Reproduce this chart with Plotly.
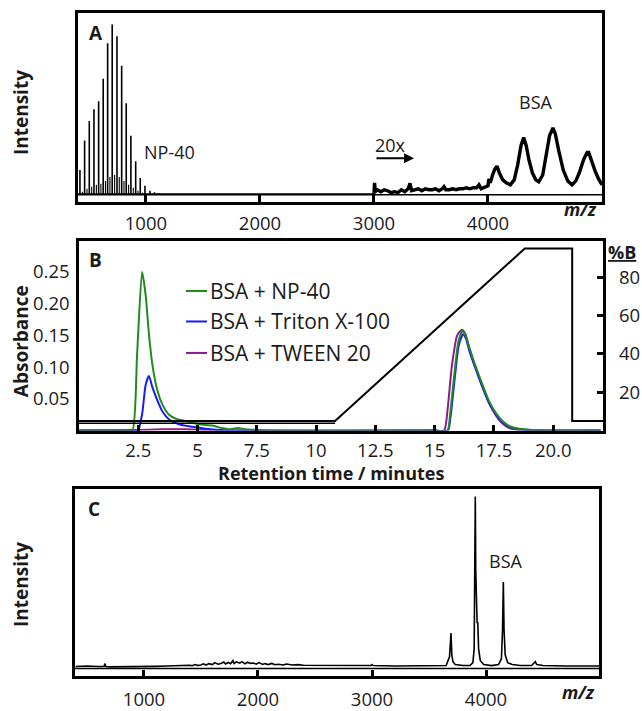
import plotly.graph_objects as go

# ---------------- data ----------------
# Panel A: NP-40 oligomer ions (m/z, intensity, arbitrary units)
np40_mz = [421, 462, 503, 544, 585, 625, 664, 704, 746, 787, 827, 868, 910, 950, 991, 1035, 1075, 1116]
np40_int = [25, 55, 75, 87, 95, 118, 154, 173, 161, 131, 93, 60, 34, 17, 9, 4, 2.5, 1.5]
# minor adduct series between the main oligomers
np40b_mz = [442, 483, 524, 565, 605, 645, 684, 725, 766, 807, 848, 889, 930, 970, 1013]
np40b_int = [3, 6, 8, 10, 11, 14, 18, 20, 18, 14, 10, 7, 4, 2, 1]
# low-mass baseline between NP-40 and the magnified region
base_mz = [400, 1050, 1200, 1400, 1600, 1800, 2000, 2200, 2400, 2600, 2800, 3000]
base_int = [0.8, 0.9, 0.8, 1.0, 0.8, 0.9, 0.8, 1.0, 0.9, 0.8, 0.9, 0.8]
# magnified (20x) high-mass region with BSA charge states
zoom_factor = 20
bsa_a_mz = [3000, 3005, 3012, 3030, 3060, 3090, 3120, 3150, 3180, 3210, 3240, 3270, 3300,
            3316, 3330, 3360, 3390, 3420, 3450, 3480, 3510, 3540, 3570, 3600, 3614, 3630,
            3660, 3690, 3720, 3750, 3780, 3810, 3840, 3870, 3900, 3921, 3940, 3960, 3980,
            4000, 4008, 4020, 4040, 4060, 4079, 4100, 4130, 4160, 4196, 4230, 4260, 4290,
            4313, 4335, 4360, 4390, 4420, 4445, 4480, 4510, 4540, 4570, 4590, 4620, 4660,
            4700, 4737, 4770, 4800, 4840, 4870, 4883, 4910, 4940, 4970, 5000]
bsa_a_int = [0.04, 0.6, 0.15, 0.25, 0.15, 0.25, 0.2, 0.1, 0.15, 0.1, 0.25, 0.15, 0.3,
             0.58, 0.2, 0.25, 0.3, 0.2, 0.3, 0.25, 0.25, 0.3, 0.2, 0.3, 0.4, 0.25,
             0.25, 0.3, 0.25, 0.3, 0.3, 0.35, 0.3, 0.35, 0.35, 0.5, 0.3, 0.35, 0.4,
             0.45, 0.8, 0.6, 1.0, 1.3, 1.45, 1.1, 0.75, 0.6, 0.5, 0.75, 1.5, 2.5,
             2.9, 2.5, 1.75, 1.1, 0.75, 0.65, 1.0, 2.0, 3.0, 3.4, 3.1, 2.25, 1.25,
             0.7, 0.5, 0.7, 1.1, 1.8, 2.15, 2.15, 1.65, 1.2, 0.8, 0.5]

# Panel B: UV chromatograms (time / min, absorbance)
t_np40 = [0, 2.0, 2.25, 2.45, 2.66, 2.81, 2.95, 3.09, 3.30, 3.52, 3.80, 4.08, 4.50, 5.06,
          5.63, 6.05, 6.33, 6.7, 7.0, 7.5, 8.0, 15.0, 15.54, 15.65, 15.82, 16.0, 16.17,
          16.3, 16.46, 16.74, 17.02, 17.30, 17.58, 17.86, 18.14, 18.57, 19.2, 20.0, 22.0]
a_np40 = [0, 0, 0, 0.12, 0.25, 0.214, 0.152, 0.105, 0.064, 0.041, 0.025, 0.019, 0.015, 0.0098,
          0.008, 0.0036, 0.0023, 0.004, 0.002, 0.001, 0, 0, 0, 0.025, 0.085, 0.14, 0.157,
          0.15, 0.131, 0.100, 0.072, 0.046, 0.028, 0.015, 0.0073, 0.003, 0.001, 0, 0]
t_triton = [0, 2.3, 2.49, 2.67, 2.81, 2.95, 3.09, 3.30, 3.52, 3.80, 4.22, 4.78, 5.35, 5.77,
            6.5, 15.0, 15.56, 15.67, 15.84, 16.02, 16.2, 16.32, 16.46, 16.74, 17.02, 17.30,
            17.58, 17.86, 18.14, 18.57, 19.2, 22.0]
a_triton = [0, 0, 0, 0.028, 0.072, 0.086, 0.069, 0.048, 0.030, 0.0175, 0.0098, 0.006, 0.003,
            0.0015, 0, 0, 0, 0.022, 0.08, 0.135, 0.152, 0.145, 0.126, 0.096, 0.068, 0.043,
            0.026, 0.013, 0.006, 0.002, 0.0005, 0]
t_tween = [0, 2.5, 3.5, 4.5, 5.5, 7.0, 15.0, 15.40, 15.55, 15.72, 15.95, 16.15, 16.3, 16.46,
           16.74, 17.02, 17.30, 17.58, 17.86, 18.14, 18.57, 19.2, 22.0]
a_tween = [0, 0.001, 0.002, 0.002, 0.001, 0, 0, 0, 0.035, 0.10, 0.15, 0.159, 0.152, 0.13,
           0.098, 0.069, 0.043, 0.024, 0.011, 0.004, 0.001, 0, 0]
# solvent gradient (%B)
t_grad = [0, 10.8, 18.8, 20.8, 20.8, 22.1]
pct_b = [5, 5, 95, 95, 5, 5]
t_grad2 = [0, 10.8]
pct_b2 = [3.8, 3.8]

# Panel C: mass spectrum after cleanup (m/z, intensity)
ms_c_mz = [400, 500, 600, 650, 658, 666, 700, 800, 900, 1000, 1100, 1200, 1300, 1400, 1425,
           1445, 1470, 1500, 1520, 1545, 1570, 1600, 1620, 1650, 1675, 1700, 1715, 1740, 1760,
           1780, 1790, 1810, 1840, 1860, 1885, 1910, 1930, 1960, 1985, 2010, 2040, 2060,
           2090, 2120, 2150, 2180, 2220, 2250, 2300, 2350, 2400, 2500, 2600, 2800, 2990,
           3000, 3010, 3200, 3400, 3600, 3650, 3680,
           3693, 3700, 3710, 3730, 3800, 3860, 3885, 3896, 3903, 3906, 3910, 3916, 3922,
           3928, 3935, 3950, 3980, 4050, 4110, 4135, 4145, 4152, 4158, 4168, 4190, 4230,
           4300, 4400, 4420, 4432, 4445, 4500, 4700, 5000]
ms_c_int = [2.0, 2.5, 2.0, 2.2, 5.0, 2.0, 1.7, 1.7, 1.8, 1.8, 2.2, 2.5, 3.0, 3.4, 2.8,
            4.0, 3.2, 3.6, 4.8, 3.5, 5.0, 4.0, 6.0, 4.4, 5.2, 6.6, 4.6, 6.2, 5.0,
            8.0, 5.2, 6.8, 5.4, 7.0, 4.8, 6.4, 5.2, 5.6, 4.4, 6.0, 4.2, 5.0,
            4.0, 5.2, 3.8, 4.4, 3.6, 4.6, 3.6, 4.0, 3.4, 3.4, 3.2, 3.0, 3.0,
            4.0, 3.0, 2.6, 2.6, 2.6, 3.0, 12,
            36, 14, 7, 4, 3, 3, 6, 20, 100, 175, 100, 52, 46,
            47, 20, 8, 4, 3, 4, 10, 40, 88, 40, 14, 6, 4,
            3, 3, 5, 7, 4, 3, 2.6, 2.6]

# ---------------- figure ----------------
W, H = 642, 711
FONT = "Open Sans"
INK = "#1a1a1a"


def px(x):
    return x / W


def py(y):
    return 1 - y / H


fig = go.Figure()

# Panel A: NP-40 ladder as stick spectrum
stick_x, stick_y = [], []
for m, h in zip(np40_mz, np40_int):
    stick_x += [m, m, None]
    stick_y += [0, h, None]
minor_x, minor_y = [], []
for m, h in zip(np40b_mz, np40b_int):
    minor_x += [m, m, None]
    minor_y += [0, h, None]
fig.add_trace(go.Scatter(x=stick_x, y=stick_y, mode="lines",
                         line=dict(color="black", width=1.6), xaxis="x", yaxis="y"))
fig.add_trace(go.Scatter(x=minor_x, y=minor_y, mode="lines",
                         line=dict(color="black", width=1.1), xaxis="x", yaxis="y"))
fig.add_trace(go.Scatter(x=base_mz, y=base_int, mode="lines",
                         line=dict(color="black", width=1.2), xaxis="x", yaxis="y"))
fig.add_trace(go.Scatter(x=bsa_a_mz, y=[v * zoom_factor for v in bsa_a_int], mode="lines",
                         line=dict(color="black", width=3.4), xaxis="x", yaxis="y"))

# Panel B: chromatograms and gradient
fig.add_trace(go.Scatter(x=t_grad, y=pct_b, mode="lines",
                         line=dict(color="black", width=2), xaxis="x2", yaxis="y3"))
fig.add_trace(go.Scatter(x=t_grad2, y=pct_b2, mode="lines",
                         line=dict(color="black", width=1.4), xaxis="x2", yaxis="y3"))
for t, a, col in [(t_tween, a_tween, "#8b1a8b"),
                  (t_triton, a_triton, "#1a1aff"),
                  (t_np40, a_np40, "#1f8a1f")]:
    fig.add_trace(go.Scatter(x=t, y=a, mode="lines",
                             line=dict(color=col, width=2, shape="spline", smoothing=0.6),
                             xaxis="x2", yaxis="y2"))

# Panel C
fig.add_trace(go.Scatter(x=ms_c_mz, y=ms_c_int, mode="lines",
                         line=dict(color="black", width=1.6), xaxis="x3", yaxis="y4"))

tick_font = dict(family=FONT, size=18.5, color=INK)
frame = dict(showline=True, mirror=True, linecolor="black", linewidth=2.5,
             showgrid=False, zeroline=False)

mz_ticks = [1000, 2000, 3000, 4000]
fig.update_layout(
    width=W, height=H, margin=dict(l=0, r=0, t=0, b=0),
    paper_bgcolor="white", plot_bgcolor="white", showlegend=False,
    font=dict(family=FONT, color=INK),
    xaxis=dict(domain=[px(78), px(602)], range=[404, 5000], anchor="y",
               tickvals=mz_ticks, ticks="inside", ticklen=7, tickwidth=2.5, tickcolor="black",
               tickfont=tick_font, ticklabelstandoff=4, **frame),
    yaxis=dict(domain=[py(205), py(13)], range=[-7, 185], anchor="x",
               showticklabels=False, ticks="", **frame),
    xaxis2=dict(domain=[px(79), px(603)], range=[0, 22.1], anchor="y2",
                tickvals=[2.5, 5, 7.5, 10, 12.5, 15, 17.5, 20],
                ticktext=["2.5", "5", "7.5", "10", "12.5", "15", "17.5", "20.0"],
                ticks="inside", ticklen=6, tickwidth=2.5, tickcolor="black",
                tickfont=tick_font, ticklabelstandoff=1, **frame),
    yaxis2=dict(domain=[py(438), py(245)], range=[0, 0.299], anchor="x2",
                tickvals=[0.05, 0.10, 0.15, 0.20, 0.25],
                ticktext=["0.05", "0.10", "0.15", "0.20", "0.25"],
                ticks="", tickfont=tick_font, ticklabelstandoff=3, **frame),
    yaxis3=dict(domain=[py(438), py(245)], range=[0, 99], anchor="x2", overlaying="y2",
                side="right", tickvals=[20, 40, 60, 80], ticks="inside", ticklen=6,
                tickwidth=2.5, tickcolor="black", tickfont=tick_font, ticklabelstandoff=15,
                showgrid=False, zeroline=False, showline=False),
    xaxis3=dict(domain=[px(75), px(599)], range=[395, 4991], anchor="y4",
                tickvals=mz_ticks, ticks="inside", ticklen=7, tickwidth=2.5, tickcolor="black",
                tickfont=tick_font, ticklabelstandoff=5, **frame),
    yaxis4=dict(domain=[py(688), py(497)], range=[-8, 183], anchor="x3",
                showticklabels=False, ticks="", **frame),
)

# axis bands along the m/z axes
for xa, ya in [("x", "y"), ("x3", "y4")]:
    fig.add_shape(type="line", xref=f"{xa} domain", yref=ya, x0=0, x1=1, y0=0, y1=0,
                  line=dict(color="black", width=1.5))

# legend for panel B
legend_rows = [("BSA + NP-40", "#1f8a1f", 296),
               ("BSA + Triton X-100", "#1a1aff", 327),
               ("BSA + TWEEN 20", "#8b1a8b", 359)]
for label, col, yy in legend_rows:
    fig.add_shape(type="line", xref="paper", yref="paper", x0=px(186), x1=px(207),
                  y0=py(yy), y1=py(yy), line=dict(color=col, width=2))
    fig.add_annotation(x=px(208), y=py(yy), xref="paper", yref="paper", text=label,
                       showarrow=False, xanchor="left", yanchor="middle",
                       font=dict(family=FONT, size=21, color=INK))


def note(text, x, y, size=18, xanchor="left", bold=False, angle=0):
    fig.add_annotation(x=px(x), y=py(y), xref="paper", yref="paper",
                       text=f"<b>{text}</b>" if bold else text, showarrow=False,
                       xanchor=xanchor, yanchor="middle", textangle=angle,
                       font=dict(family=FONT, size=size, color=INK))


note("A", 87, 34, size=19, bold=True)
note("B", 87, 264, size=19, bold=True)
note("C", 86, 518, size=19, bold=True)
note("NP-40", 142, 155)
note("20x", 373, 147)
note("BSA", 535, 104, xanchor="center")
note("BSA", 505, 571, xanchor="center")
note("Intensity", 21, 114, size=19, xanchor="center", bold=True, angle=-90)
note("Intensity", 21, 594, size=19, xanchor="center", bold=True, angle=-90)
note("Absorbance", 21, 347, size=19, xanchor="center", bold=True, angle=-90)
note("Retention time / minutes", 331, 481, size=18, xanchor="center", bold=True)
note("<i>m/z</i>", 580, 213, size=18, xanchor="center", bold=True)
note("<i>m/z</i>", 578, 704, size=18, xanchor="center", bold=True)
note("<u>%B</u>", 606, 256, size=18, bold=True)

# magnification arrow
fig.add_annotation(x=px(414), y=py(161), xref="paper", yref="paper", ax=-39, ay=0,
                   text="", showarrow=True, arrowhead=2, arrowsize=1, arrowwidth=2,
                   arrowcolor="black")

fig.write_html("out.html")
